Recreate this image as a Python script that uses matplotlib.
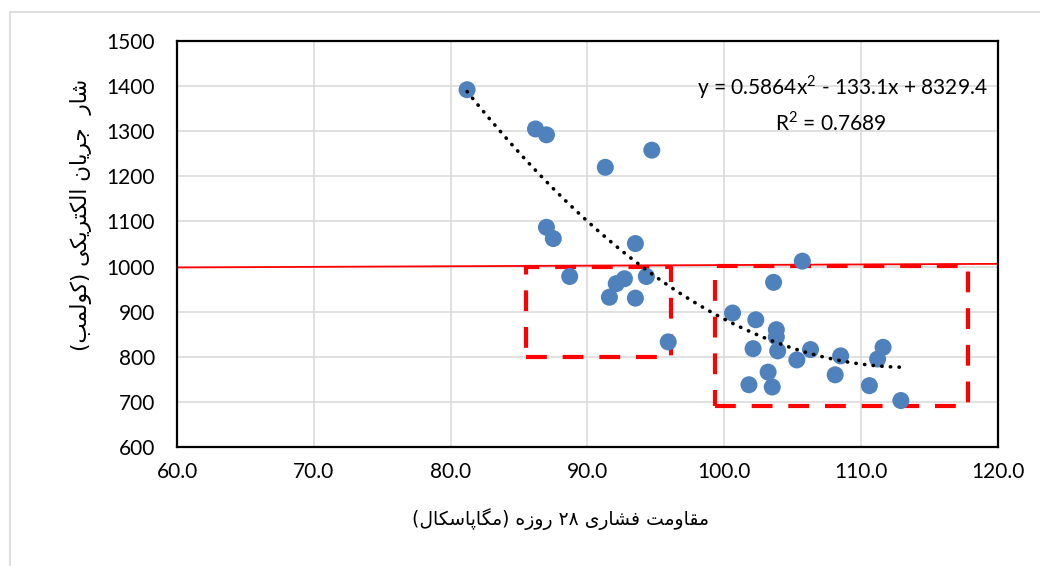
import re
import matplotlib
matplotlib.use("Agg")
import matplotlib.pyplot as plt
import numpy as np
from matplotlib.patches import Rectangle
from matplotlib.ticker import FormatStrFormatter

# مقاومت فشاری (MPa) و شار جریان (C)
strength = [81.2, 86.2, 87.0, 91.3, 94.7, 87.0, 87.5, 93.5, 88.7,
            92.1, 92.7, 94.3, 91.6, 93.5, 95.9,
            105.7, 103.6, 100.6, 102.3, 103.8, 103.8, 102.1, 103.9, 106.3,
            105.3, 108.5, 111.6, 111.2, 103.2, 108.1, 101.8, 103.5, 110.6, 112.9]
charge = [1392, 1305, 1292, 1220, 1258, 1087, 1062, 1051, 978,
          962, 973, 978, 932, 930, 833,
          1012, 965, 897, 882, 860, 844, 818, 813, 816,
          793, 802, 821, 795, 766, 760, 738, 733, 736, 703]

# ضرایب خط روند درجه دو
poly_a, poly_b, poly_c = 0.5864, -133.1, 8329.4
r_squared = 0.7689

# خط مرجع و کادرها
ref_x = [60, 120]
ref_y = [998, 1006]
boxes = [(85.5, 800, 96.1, 1000), (99.3, 690, 117.8, 1002)]

x_label = "مقاومت فشاری ۲۸ روزه (مگاپاسکال)"
y_label = "شار  جریان الکتریکی (کولمب)"

# forms: isolated, final, initial, medial
FORMS = {
    "ا": (0xFE8D, 0xFE8E), "ب": (0xFE8F, 0xFE90, 0xFE91, 0xFE92),
    "ت": (0xFE95, 0xFE96, 0xFE97, 0xFE98), "ج": (0xFE9D, 0xFE9E, 0xFE9F, 0xFEA0),
    "ر": (0xFEAD, 0xFEAE), "ز": (0xFEAF, 0xFEB0),
    "س": (0xFEB1, 0xFEB2, 0xFEB3, 0xFEB4), "ش": (0xFEB5, 0xFEB6, 0xFEB7, 0xFEB8),
    "ف": (0xFED1, 0xFED2, 0xFED3, 0xFED4), "ق": (0xFED5, 0xFED6, 0xFED7, 0xFED8),
    "ل": (0xFEDD, 0xFEDE, 0xFEDF, 0xFEE0), "م": (0xFEE1, 0xFEE2, 0xFEE3, 0xFEE4),
    "ن": (0xFEE5, 0xFEE6, 0xFEE7, 0xFEE8), "ه": (0xFEE9, 0xFEEA, 0xFEEB, 0xFEEC),
    "و": (0xFEED, 0xFEEE), "پ": (0xFB56, 0xFB57, 0xFB58, 0xFB59),
    "ک": (0xFB8E, 0xFB8F, 0xFB90, 0xFB91), "گ": (0xFB92, 0xFB93, 0xFB94, 0xFB95),
    "ی": (0xFBFC, 0xFBFD, 0xFBFE, 0xFBFF),
}


def rtl(text):
    shaped = []
    for i, ch in enumerate(text):
        f = FORMS.get(ch)
        if f is None:
            shaped.append(ch)
            continue
        prev = text[i - 1] if i > 0 else ""
        nxt = text[i + 1] if i + 1 < len(text) else ""
        jp = prev in FORMS and len(FORMS[prev]) == 4
        jn = len(f) == 4 and nxt in FORMS
        idx = 3 if (jp and jn) else 1 if jp else 2 if jn else 0
        shaped.append(chr(f[idx]))
    tokens = re.findall(r"[\u06F0-\u06F90-9]+|.", "".join(shaped))
    vis = "".join(reversed(tokens))
    return vis.translate(str.maketrans("()", ")("))


num_font = "Lato"
num_size = 15
plt.rcParams["mathtext.fontset"] = "custom"
plt.rcParams["mathtext.rm"] = num_font

W, H = 1040, 566
fig = plt.figure(figsize=(W / 100, H / 100), dpi=100)
ax = fig.add_axes([177 / W, 1 - 447 / H, (998 - 177) / W, (447 - 41) / H])

ax.grid(True, color="#d9d9d9", linewidth=1.1)
ax.set_axisbelow(True)

ax.plot(ref_x, ref_y, color="red", linewidth=1.3, zorder=2)

for x0, y0, x1, y1 in boxes:
    ax.add_patch(Rectangle((x0, y0), x1 - x0, y1 - y0, fill=False,
                           edgecolor="red", linewidth=3,
                           linestyle=(0, (5, 3.8)), zorder=2))

ax.scatter(strength, charge, s=150, color="#4f81bd", edgecolors="none", zorder=3)

xs = np.linspace(min(strength), max(strength), 200)
ax.plot(xs, poly_a * xs ** 2 + poly_b * xs + poly_c, color="black",
        linewidth=2.6, linestyle=(0, (0.1, 2.3)), dash_capstyle="round", zorder=4)

ax.text(119.2, 1398, f"y = {poly_a}x$^2$ - {abs(poly_b)}x + {poly_c}",
        ha="right", va="center", fontsize=num_size, family=num_font)
ax.text(107.8, 1320, f"R$^2$ = {r_squared}", ha="center", va="center",
        fontsize=num_size, family=num_font)

ax.set_xlim(60, 120)
ax.set_ylim(600, 1500)
ax.set_xticks(np.arange(60, 121, 10))
ax.set_yticks(np.arange(600, 1501, 100))
ax.xaxis.set_major_formatter(FormatStrFormatter("%.1f"))
ax.tick_params(length=0, labelsize=num_size)
ax.tick_params(axis="y", pad=16)
ax.tick_params(axis="x", pad=11)
for lab in ax.get_xticklabels() + ax.get_yticklabels():
    lab.set_family(num_font)
for sp in ax.spines.values():
    sp.set_color("black")
    sp.set_linewidth(1.6)

fig.text(561 / W, 1 - 519 / H, rtl(x_label), ha="center", va="center",
         fontsize=13.5, family=["DejaVu Sans"])
fig.text(81 / W, 1 - 215 / H, rtl(y_label), ha="center", va="center",
         rotation=90, fontsize=15.5, family=["DejaVu Sans"])

# outer chart frame
fig.add_artist(Rectangle((10 / W, -0.1), 1.2, 1 - 12 / H + 0.1,
                         transform=fig.transFigure, fill=False,
                         edgecolor="#d9d9d9", linewidth=1.2))

fig.savefig("out.png", dpi=100)
